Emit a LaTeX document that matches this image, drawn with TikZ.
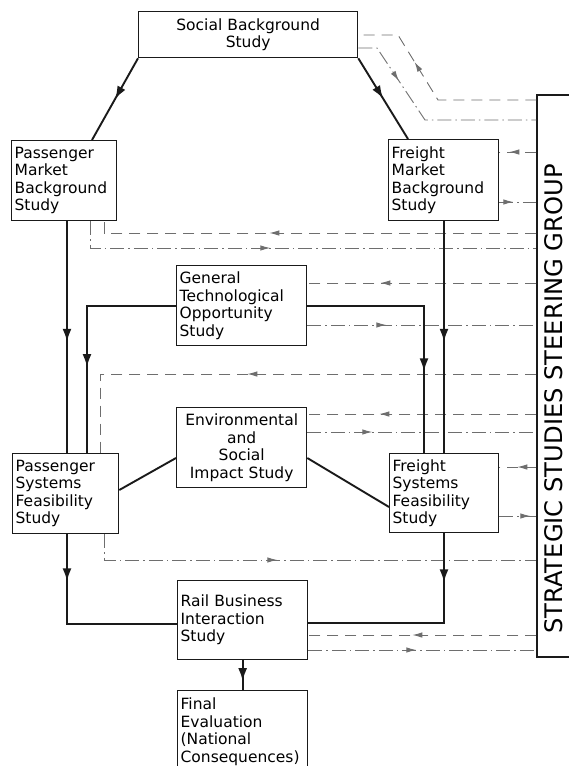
\documentclass[tikz,border=0pt]{standalone}
\usepackage{fontspec}
\setmainfont{DejaVu Sans}
\usepackage{xcolor}
\usetikzlibrary{arrows.meta,decorations.markings}
\definecolor{FlowInk}{HTML}{1A1A1A}
\definecolor{LinkGray}{HTML}{6E6E6E}

\begin{document}
\begin{tikzpicture}[
    x=1pt, y=-1pt,
    every node/.style={font=\fontsize{15.5}{17.5}\selectfont},
    study/.style={
        rectangle,
        draw=FlowInk,
        line width=1.3pt,
        fill=white,
        anchor=north west,
        align=left,
        inner xsep=3pt,
        inner ysep=2pt
    },
    steering/.style={
        rectangle,
        draw=FlowInk,
        line width=1.3pt,
        fill=white,
        minimum width=34pt,
        minimum height=562pt,
        inner sep=0pt,
        font=\fontsize{24.2}{28}\selectfont
    },
    main/.style={
        line width=1.9pt,
        color=FlowInk
    },
    link/.style={
        line width=0.9pt,
        color=LinkGray
    },
    tostudy/.style={dash pattern=on 11pt off 7pt},
    togroup/.style={dash pattern=on 14pt off 4pt on 1.5pt off 4pt},
    arrowat/.style={
        postaction={decorate, decoration={markings,
            mark=at position #1 with {\arrow{Latex[length=13pt,width=9pt]}}}}
    },
    tipat/.style={
        postaction={decorate, decoration={markings,
            mark=at position #1 with {\arrow{Latex[length=10pt,width=5.5pt]}}}}
    }
]

\useasboundingbox (0,0) rectangle (568,766);

\node[study, text width=213pt, minimum height=46pt, align=center] (social) at (138,11) {
Social Background\\Study
};

\node[study, text width=99pt, minimum height=80pt] (pmb) at (11,140) {
Passenger\\Market\\Background\\Study
};

\node[study, text width=104pt, minimum height=81pt] (fmb) at (388,139) {
Freight\\Market\\Background\\Study
};

\node[study, text width=124pt, minimum height=80pt] (gtos) at (176,265) {
General\\Technological\\Opportunity\\Study
};

\node[study, text width=124pt, minimum height=80pt, align=center] (esis) at (176,407) {
Environmental\\and\\Social\\Impact Study
};

\node[study, text width=100pt, minimum height=80pt] (psfs) at (12,453) {
Passenger\\Systems\\Feasibility\\Study
};

\node[study, text width=103pt, minimum height=79pt] (fsfs) at (389,453) {
Freight\\Systems\\Feasibility\\Study
};

\node[study, text width=124pt, minimum height=79pt] (rbis) at (177,580) {
Rail Business\\Interaction\\Study
};

\node[study, text width=124pt, minimum height=82pt] (final) at (177,690) {
Final\\Evaluation\\(National\\Consequences)
};

% text sits a little low in the box
\node[steering] (group) at (554,376) {\rotatebox{90}{STRATEGIC STUDIES STEERING GROUP\hspace*{46pt}}};

% links with the steering group
\draw[link, tostudy, tipat=143pt] (group.west |- 0,100) -- (438,100) -- (398,35) -- (social.east |- 0,35);
\draw[link, togroup, tipat=58pt] (social.east |- 0,48) -- (377,48) -- (425,120) -- (group.west |- 0,120);
\draw[link, tostudy, tipat=27pt] (group.west |- 0,152) -- (fmb.east |- 0,152);
\draw[link, togroup, tipat=14pt] (fmb.east |- 0,202) -- (group.west |- 0,202);
\draw[link, tostudy, tipat=267pt] (group.west |- 0,233) -| (pmb.south -| 104,0);
\draw[link, togroup, tipat=207pt] (pmb.south -| 90,0) |- (group.west |- 0,248);
\draw[link, tostudy, tipat=156pt] (group.west |- 0,283) -- (gtos.east |- 0,283);
\draw[link, togroup, tipat=79pt] (gtos.east |- 0,325) -- (group.west |- 0,325);
\draw[link, tostudy, tipat=289pt] (group.west |- 0,374) -| (psfs.north -| 100,0);
\draw[link, tostudy, tipat=157pt] (group.west |- 0,414) -- (esis.east |- 0,414);
\draw[link, togroup, tipat=65pt] (esis.east |- 0,432) -- (group.west |- 0,432);
\draw[link, tostudy, tipat=19pt] (group.west |- 0,467) -- (fsfs.east |- 0,467);
\draw[link, togroup, tipat=31pt] (fsfs.east |- 0,516) -- (group.west |- 0,516);
\draw[link, togroup, tipat=199pt] (psfs.south -| 104,0) |- (group.west |- 0,560);
\draw[link, tostudy, tipat=124pt] (group.west |- 0,635) -- (rbis.east |- 0,635);
\draw[link, togroup, tipat=108pt] (rbis.east |- 0,650) -- (group.west |- 0,650);

% study flow
\draw[main, arrowat=0.5] (social.south west) -- (pmb.north -| 92,0);
\draw[main, arrowat=0.5] (social.south east) -- (fmb.north -| 408,0);
\draw[main, arrowat=0.52] (pmb.south -| 67,0) -- (psfs.north -| 67,0);
\draw[main, arrowat=0.52] (fmb.south -| 444,0) -- (fsfs.north -| 444,0);
\draw[main, arrowat=150pt] (gtos.west |- 0,306) -| (psfs.north -| 87,0);
\draw[main, arrowat=182pt] (gtos.east |- 0,306) -| (fsfs.north -| 424,0);
\draw[main] (esis.west |- 0,458) -- (psfs.east |- 0,490);
\draw[main] (esis.east |- 0,458) -- (fsfs.west |- 0,507);
\draw[main, arrowat=47pt] (psfs.south -| 67,0) |- (rbis.west |- 0,624);
\draw[main, arrowat=49pt] (fsfs.south -| 444,0) |- (rbis.east |- 0,623);
\draw[main, arrowat=0.7] (rbis.south) -- (final.north);

\end{tikzpicture}
\end{document}
